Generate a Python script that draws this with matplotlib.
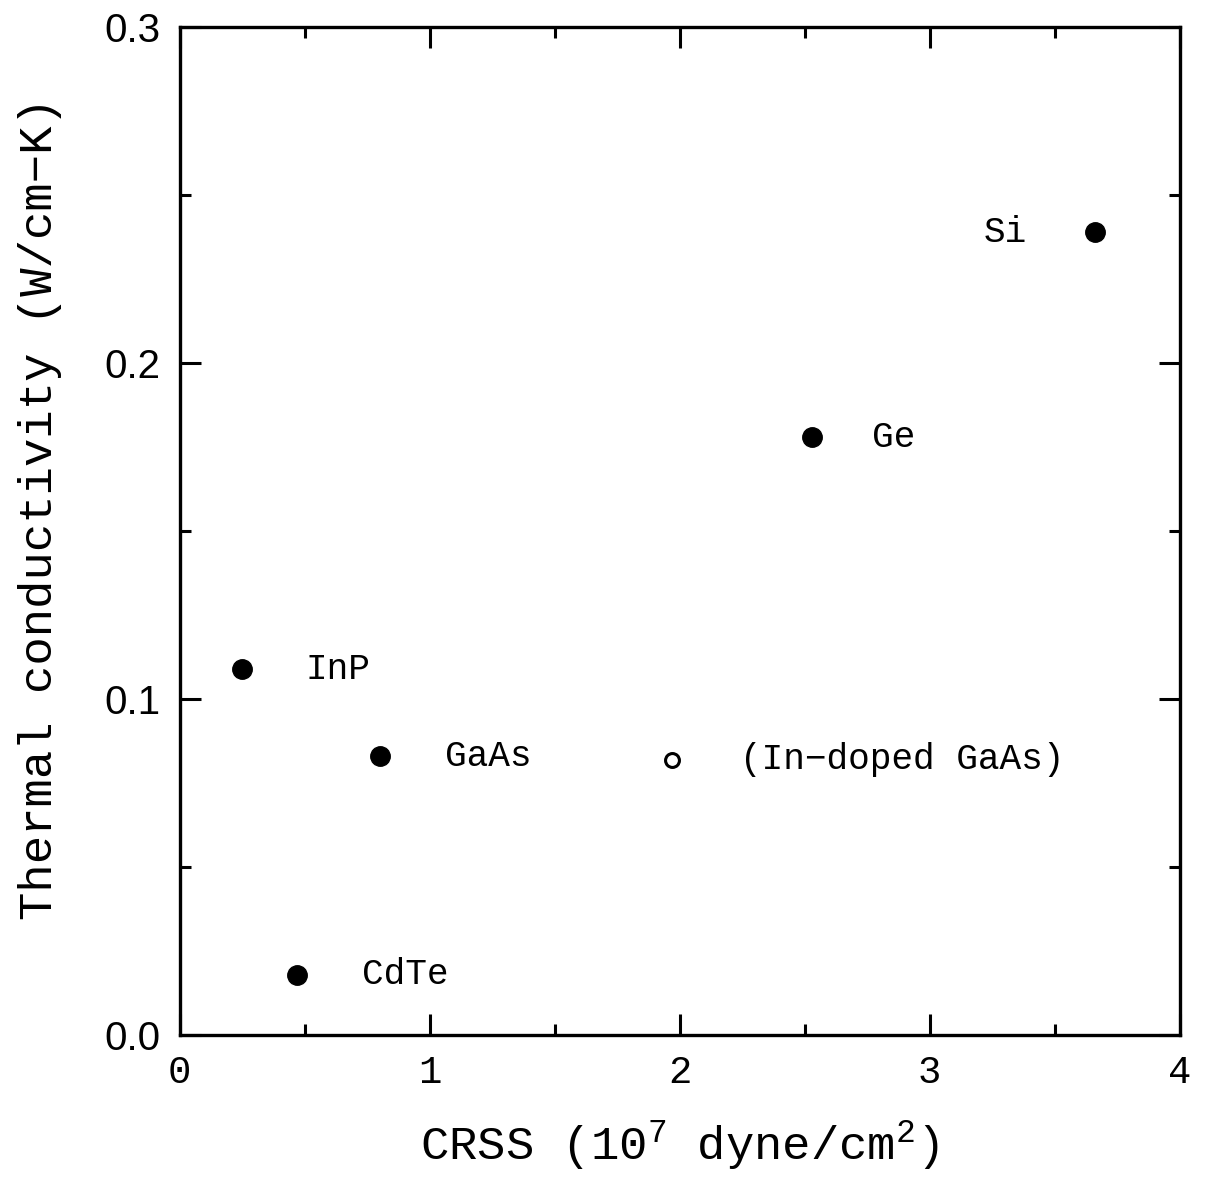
import numpy as np
import matplotlib.pyplot as plt
from matplotlib.ticker import MultipleLocator, FormatStrFormatter

plt.rcParams['mathtext.fontset'] = 'custom'
plt.rcParams['mathtext.rm'] = 'Liberation Mono'

# critical resolved shear stress (1e7 dyne/cm^2) vs thermal conductivity (W/cm-K)
names = ["InP", "GaAs", "CdTe", "Ge", "Si"]
crss = [0.25, 0.80, 0.47, 2.53, 3.66]
kappa = [0.109, 0.083, 0.018, 0.178, 0.239]

doped_name = "(In\u2212doped GaAs)"
doped_crss = [1.97]
doped_kappa = [0.082]

mono = "Liberation Mono"

fig = plt.figure(figsize=(12.05, 11.78), dpi=100)
ax = fig.add_axes([0.149, 0.121, 0.830, 0.856])

ax.plot(crss, kappa, 'o', color='black', markersize=14)
ax.plot(doped_crss, doped_kappa, 'o', mfc='white', mec='black', markersize=10, mew=2.2)

offsets = {"InP": 63, "GaAs": 65, "CdTe": 65, "Ge": 60, "Si": -68}
for n, x, y in zip(names, crss, kappa):
    dx = offsets[n]
    ax.annotate(n, (x, y), xytext=(dx, 0), textcoords='offset pixels',
                ha='left' if dx > 0 else 'right', va='center',
                family=mono, fontsize=26)
ax.annotate(doped_name, (doped_crss[0], doped_kappa[0]), xytext=(68, 0),
            textcoords='offset pixels', ha='left', va='center',
            family=mono, fontsize=26)

ax.set_xlim(0, 4)
ax.set_ylim(0, 0.3)
ax.xaxis.set_major_locator(MultipleLocator(1))
ax.xaxis.set_minor_locator(MultipleLocator(0.5))
ax.yaxis.set_major_locator(MultipleLocator(0.1))
ax.yaxis.set_minor_locator(MultipleLocator(0.05))
ax.yaxis.set_major_formatter(FormatStrFormatter('%.1f'))

ax.tick_params(which='both', direction='in', top=True, right=True, width=2.2)
ax.tick_params(which='major', length=15)
ax.tick_params(which='minor', length=8)
ax.tick_params(axis='x', pad=14, labelsize=28, labelfontfamily=mono)
ax.tick_params(axis='y', pad=14, labelsize=29, labelfontfamily="Liberation Sans")

for s in ax.spines.values():
    s.set_linewidth(2.4)

ax.set_xlabel("CRSS (10$^{\\mathrm{7}}$ dyne/cm$^{\\mathrm{2}}$)", family=mono,
              fontsize=34, labelpad=20)
ax.set_ylabel("Thermal conductivity (W/cm\u2212K)", family=mono, fontsize=34)
ax.yaxis.set_label_coords(-0.118, 0.523)

plt.savefig("out.png", dpi=100)
